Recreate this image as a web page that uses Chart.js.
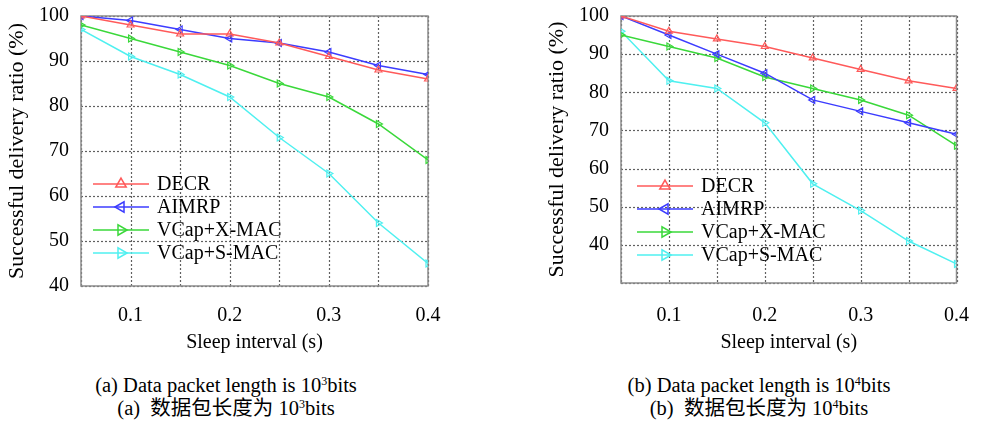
<!DOCTYPE html>
<html>
<head>
<meta charset="utf-8">
<script src="https://cdn.jsdelivr.net/npm/chart.js@4.4.1/dist/chart.umd.min.js"></script>
<style>
    body { margin: 0; background: #fff; width: 982px; height: 427px; overflow: hidden; position: relative; }
    .panel { position: absolute; top: 0; }
    .caption {
        position: absolute;
        font-family: "Liberation Serif", "Noto Sans CJK SC", serif;
        font-size: 20.5px;
        color: #000;
        white-space: nowrap;
        transform: translateX(-50%);
        line-height: 23px;
        text-align: center;
    }
    .caption sup { font-size: 12px; vertical-align: 7px; line-height: 0; }
</style>
</head>
<body>
<div class="panel" style="left:0px"><canvas id="chart-a" width="460" height="360"></canvas></div>
<div class="panel" style="left:540px"><canvas id="chart-b" width="442" height="360"></canvas></div>

<div class="caption" style="left:226px; top:374px">(a) Data packet length is 10<sup>3</sup>bits<br>(a)&nbsp; 数据包长度为 10<sup>3</sup>bits</div>
<div class="caption" style="left:759px; top:374px">(b) Data packet length is 10<sup>4</sup>bits<br>(b)&nbsp; 数据包长度为 10<sup>4</sup>bits</div>

<script>
const sleepIntervals = [0.05, 0.1, 0.15, 0.2, 0.25, 0.3, 0.35, 0.4];
const seriesNames = ["DECR", "AIMRP", "VCap+X-MAC", "VCap+S-MAC"];

// (a) 10^3 bits
const decrA  = [100, 98, 96, 96, 94, 91, 88, 86];
const aimrpA = [100, 99, 97, 95, 94, 92, 89, 87];
const xmacA  = [98, 95, 92, 89, 85, 82, 76, 68];
const smacA  = [97, 91, 87, 82, 73, 65, 54, 45];

// (b) 10^4 bits
const decrB  = [100, 96, 94, 92, 89, 86, 83, 81];
const aimrpB = [100, 95, 90, 85, 78, 75, 72, 69];
const xmacB  = [95, 92, 89, 84, 81, 78, 74, 66];
const smacB  = [96, 83, 81, 72, 56, 49, 41, 35];

const colors = ["#ff5a5a", "#3c3cff", "#3ad83a", "#4ff0f0"];
const rotations = [0, -90, 90, 90];
const serif = "'Liberation Serif', 'Times New Roman', serif";

// dotted grid + grey box round the plot, legend inside the plot (lower left)
const boxAndLegend = {
    id: "boxAndLegend",
    beforeDatasetsDraw(chart) {
        const { ctx, chartArea: a, scales } = chart;
        ctx.save();
        ctx.strokeStyle = "#606060";
        ctx.lineWidth = 1.2;
        ctx.setLineDash([2, 2]);
        scales.x.ticks.forEach(t => {
            const px = Math.round(scales.x.getPixelForValue(t.value)) + 0.5;
            ctx.beginPath();
            ctx.moveTo(px, a.top);
            ctx.lineTo(px, a.bottom);
            ctx.stroke();
        });
        scales.y.ticks.forEach(t => {
            const py = Math.round(scales.y.getPixelForValue(t.value)) + 0.5;
            ctx.beginPath();
            ctx.moveTo(a.left, py);
            ctx.lineTo(a.right, py);
            ctx.stroke();
        });
        ctx.setLineDash([]);
        ctx.strokeStyle = "#8c8c8c";
        ctx.lineWidth = 1.5;
        ctx.strokeRect(a.left, a.top, a.right - a.left, a.bottom - a.top);
        ctx.restore();
    },
    afterDraw(chart, args, opts) {
        const { ctx, chartArea: a } = chart;
        ctx.save();
        ctx.font = "20px " + serif;
        ctx.textBaseline = "middle";
        chart.data.datasets.forEach((ds, i) => {
            const y = a.top + opts.y + i * 23;
            const x0 = a.left + opts.x;
            ctx.strokeStyle = ds.borderColor;
            ctx.lineWidth = 1.5;
            ctx.beginPath();
            ctx.moveTo(x0, y);
            ctx.lineTo(x0 + 56, y);
            ctx.stroke();
            ctx.fillStyle = "rgba(0,0,0,0)";
            Chart.helpers.drawPoint(ctx, {
                pointStyle: "triangle", rotation: ds.pointRotation,
                radius: 6, borderWidth: 1.5
            }, x0 + 28, y);
            ctx.fillStyle = "#000";
            ctx.fillText(ds.label, x0 + 64, y + 1);
        });
        ctx.restore();
    }
};

function buildChart(canvasId, values, yMin, plotBottom, padRight, legendPos, tickPad) {
    const canvas = document.getElementById(canvasId);
    const datasets = values.map((data, i) => ({
        label: seriesNames[i],
        data: sleepIntervals.map((x, j) => ({ x, y: data[j] })),
        borderColor: colors[i],
        backgroundColor: "rgba(0,0,0,0)",
        borderWidth: 1.5,
        pointStyle: "triangle",
        pointRotation: rotations[i],
        pointRadius: 4,
        pointBorderWidth: 1.2,
        tension: 0
    }));

    return new Chart(canvas, {
        type: "line",
        data: { datasets },
        options: {
            responsive: false,
            animation: false,
            layout: { padding: { top: 15, right: padRight, left: 0, bottom: 0 } },
            plugins: {
                legend: { display: false },
                tooltip: { enabled: false },
                boxAndLegend: legendPos
            },
            scales: {
                x: {
                    type: "linear",
                    min: 0.05,
                    max: 0.4,
                    afterFit: s => { s.height = canvas.height - plotBottom; },
                    ticks: {
                        stepSize: 0.05,
                        color: "#000",
                        font: { family: serif, size: 20 },
                        padding: tickPad,
                        maxRotation: 0,
                        autoSkip: false,
                        callback: v => Math.round(v * 100) % 10 === 0 ? v.toFixed(1) : ""
                    },
                    grid: { display: false },
                    border: { display: false },
                    title: {
                        display: true,
                        text: "Sleep interval (s)",
                        color: "#000",
                        font: { family: serif, size: 20 },
                        padding: { top: 4, bottom: 5 }
                    }
                },
                y: {
                    min: yMin,
                    max: 100,
                    afterFit: s => { s.width = 81; },
                    ticks: {
                        stepSize: 10,
                        color: "#000",
                        font: { family: serif, size: 20 },
                        padding: 4,
                        callback: v => v < 40 ? "" : v
                    },
                    grid: { display: false },
                    border: { display: false },
                    title: {
                        display: true,
                        text: "Successful delivery ratio (%)",
                        color: "#000",
                        font: { family: serif, size: 22 },
                        padding: { top: 4, bottom: 2 }
                    }
                }
            }
        },
        plugins: [boxAndLegend]
    });
}

buildChart("chart-a", [decrA, aimrpA, xmacA, smacA], 40, 286, 32, { x: 12, y: 168 }, 10);
buildChart("chart-b", [decrB, aimrpB, xmacB, smacB], 30, 283, 14, { x: 16, y: 170 }, 13);
</script>
</body>
</html>
